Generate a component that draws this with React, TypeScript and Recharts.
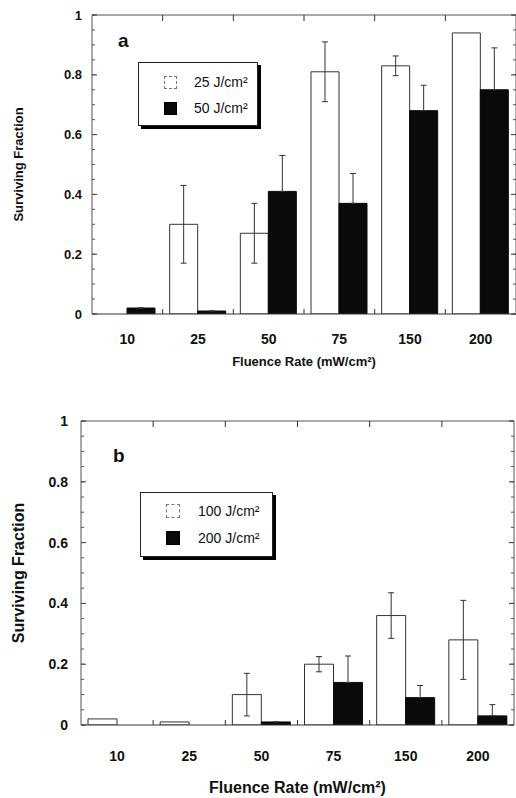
import React from 'react';
import { BarChart, Bar, XAxis, YAxis, ErrorBar, Legend } from 'recharts';

const FONT = '"Liberation Sans", Arial, Helvetica, sans-serif';
const AXIS = '#555';
const THIN = 0.01;

// ---- data ----
const categories = ['10', '25', '50', '75', '150', '200'];

const seriesA1Name = '25 J/cm²';
const seriesA2Name = '50 J/cm²';
const seriesA1 = [0, 0.30, 0.27, 0.81, 0.83, 0.94];
const seriesA1Err = [0, 0.13, 0.10, 0.10, 0.033, 0];
const seriesA2 = [0.02, 0.01, 0.41, 0.37, 0.68, 0.75];
const seriesA2Err = [0, 0, 0.12, 0.10, 0.085, 0.14];

const seriesB1Name = '100 J/cm²';
const seriesB2Name = '200 J/cm²';
const seriesB1 = [0.02, 0.01, 0.10, 0.20, 0.36, 0.28];
const seriesB1Err = [0, 0, 0.07, 0.025, 0.075, 0.13];
const seriesB2 = [0, 0, 0.01, 0.14, 0.09, 0.03];
const seriesB2Err = [0, 0, 0, 0.087, 0.04, 0.037];

const yMajorTicks = [0, 0.2, 0.4, 0.6, 0.8, 1];
const yMinorTicks = [0, 0.05, 0.1, 0.15, 0.2, 0.25, 0.3, 0.35, 0.4, 0.45, 0.5, 0.55, 0.6, 0.65, 0.7, 0.75, 0.8, 0.85, 0.9, 0.95, 1];
const xTitle = 'Fluence Rate (mW/cm²)';
const yTitle = 'Surviving Fraction';

// white bars: symmetric error; black bars: only the upper half shows above the filled bar
const dataA = categories.map((c, i) => ({ cat: c, v1: seriesA1[i], e1: seriesA1Err[i], v2: seriesA2[i], e2: [0, seriesA2Err[i]] }));
const dataB = categories.map((c, i) => ({ cat: c, v1: seriesB1[i], e1: seriesB1Err[i], v2: seriesB2[i], e2: [0, seriesB2Err[i]] }));

const NoLabel = () => <g />;

type LegendCfg = { left: number; top: number; width: number; height: number; sq: number; sqLeft: number; rowCenters: number[]; gap: number; fontSize: number };

function makeLegend(cfg: LegendCfg) {
  return (props: any) => {
    const payload = props.payload || [];
    return (
      <div style={{ width: cfg.width, height: cfg.height, border: '1.5px solid #222', boxShadow: '3px 3px 0 #000', background: '#fff', boxSizing: 'border-box', position: 'relative', fontFamily: FONT }}>
        {payload.map((p: any, i: number) => {
          const fill = (p.payload && p.payload.fill) || p.color;
          return (
            <div key={i} style={{ position: 'absolute', left: cfg.sqLeft, top: cfg.rowCenters[i] - cfg.sq / 2, height: cfg.sq, display: 'flex', alignItems: 'center', whiteSpace: 'nowrap' }}>
              <span style={{ display: 'inline-block', width: cfg.sq, height: cfg.sq, background: fill, border: fill === '#ffffff' ? '1px dashed #777' : '1px solid #000', boxSizing: 'border-box' }} />
              <span style={{ marginLeft: cfg.gap, fontSize: cfg.fontSize, color: '#111', lineHeight: 1 }}>{p.value}</span>
            </div>
          );
        })}
      </div>
    );
  };
}

function bandHalf(props: any) {
  const p = props.payload || {};
  if (typeof p.offset === 'number' && p.offset > 0) return p.offset;
  return props.width / ((props.visibleTicksCount || categories.length) * 2);
}

// bottom category tick: label + small inward mark at the left band boundary
function makeBottomTick(fontSize: number, tickMargin: number) {
  return (props: any) => {
    const { x, y, payload, index } = props;
    const half = bandHalf(props);
    const axisY = y - tickMargin;
    return (
      <g>
        <text x={x} y={y} dy="0.71em" textAnchor="middle" fill="#111" style={{ fontSize, fontWeight: 700, fontFamily: FONT }}>
          {payload.value}
        </text>
        {index > 0 && <line x1={x - half} x2={x - half} y1={axisY} y2={axisY - 5} stroke="#333" strokeWidth={1} />}
      </g>
    );
  };
}

// top frame: inward marks at the band boundaries
function TopTick(props: any) {
  const { x, y, index } = props;
  const half = bandHalf(props);
  if (index === 0) return <g />;
  return <line x1={x - half} x2={x - half} y1={y} y2={y + 6} stroke="#333" strokeWidth={1} />;
}

type PanelCfg = {
  data: any[];
  names: string[];
  top: number;
  height: number;
  margin: { top: number; right: number; left: number; bottom: number };
  yAxisWidth: number;
  xAxisHeight: number;
  tickFont: number;
  xTickFont: number;
  titleFont: number;
  yTickMargin: number;
  xTickMargin: number;
  xTitleDy: number;
  yTitleX: number;
  letter: string;
  letterX: number;
  letterY: number;
  letterSize: number;
  barSize: number;
  legend: LegendCfg;
};

function Panel(cfg: PanelCfg) {
  const tickStyle = { fill: '#111', fontSize: cfg.tickFont, fontWeight: 700, fontFamily: FONT };
  return (
    <div style={{ position: 'absolute', left: 0, top: cfg.top }}>
      <BarChart width={516} height={cfg.height} data={cfg.data} margin={cfg.margin} barGap={0} barSize={cfg.barSize}>
        <XAxis
          dataKey="cat"
          type="category"
          height={cfg.xAxisHeight}
          axisLine={{ stroke: '#333' }}
          tickLine={false}
          tickSize={0}
          tickMargin={cfg.xTickMargin}
          interval={0}
          tick={makeBottomTick(cfg.xTickFont, cfg.xTickMargin)}
          label={{
            content: (p: any) => {
              const vb = p.viewBox;
              return (
                <text x={vb.x + vb.width / 2} y={vb.y + cfg.xTitleDy} textAnchor="middle" fill="#111" style={{ fontSize: cfg.titleFont, fontWeight: 700, fontFamily: FONT }}>
                  {xTitle}
                </text>
              );
            },
          }}
        />
        <XAxis xAxisId="top" dataKey="cat" type="category" orientation="top" mirror height={THIN} interval={0} tickSize={0} tickMargin={0} tickLine={false} tick={TopTick} axisLine={{ stroke: AXIS }} />
        <YAxis
          type="number"
          domain={[0, 1]}
          ticks={yMajorTicks}
          interval={0}
          width={cfg.yAxisWidth}
          axisLine={{ stroke: AXIS }}
          tickLine={false}
          tickSize={0}
          tickMargin={cfg.yTickMargin}
          tick={tickStyle}
          allowDataOverflow
          label={{
            content: (p: any) => {
              const vb = p.viewBox;
              const cy = vb.y + vb.height / 2;
              return (
                <text x={cfg.yTitleX} y={cy} textAnchor="middle" dominantBaseline="central" transform={`rotate(-90, ${cfg.yTitleX}, ${cy})`} fill="#111" style={{ fontSize: cfg.titleFont, fontWeight: 700, fontFamily: FONT }}>
                  {yTitle}
                </text>
              );
            },
          }}
        />
        <YAxis yAxisId="lmaj" type="number" domain={[0, 1]} ticks={yMajorTicks} interval={0} mirror width={THIN} tick={NoLabel} tickSize={5} axisLine={false} tickLine={{ stroke: '#333' }} allowDataOverflow />
        <YAxis yAxisId="lmin" type="number" domain={[0, 1]} ticks={yMinorTicks} interval={0} mirror width={THIN} tick={NoLabel} tickSize={3} axisLine={false} tickLine={{ stroke: AXIS }} allowDataOverflow />
        <YAxis yAxisId="rmaj" orientation="right" type="number" domain={[0, 1]} ticks={yMajorTicks} interval={0} mirror width={THIN} tick={NoLabel} tickSize={5} axisLine={{ stroke: AXIS }} tickLine={{ stroke: '#333' }} allowDataOverflow />
        <YAxis yAxisId="rmin" orientation="right" type="number" domain={[0, 1]} ticks={yMinorTicks} interval={0} mirror width={THIN} tick={NoLabel} tickSize={3} axisLine={false} tickLine={{ stroke: AXIS }} allowDataOverflow />
        <Legend
          layout="vertical"
          align="center"
          verticalAlign="middle"
          wrapperStyle={{ left: cfg.legend.left, top: cfg.legend.top, width: cfg.legend.width, height: cfg.legend.height }}
          content={makeLegend(cfg.legend)}
        />
        <Bar dataKey="v1" name={cfg.names[0]} fill="#ffffff" stroke="#333" strokeWidth={1} isAnimationActive={false}>
          <ErrorBar dataKey="e1" width={3} stroke="#333" strokeWidth={1} direction="y" />
        </Bar>
        <Bar dataKey="v2" name={cfg.names[1]} fill="#0a0a0a" stroke="#0a0a0a" strokeWidth={1} isAnimationActive={false}>
          <ErrorBar dataKey="e2" width={3} stroke="#333" strokeWidth={1} direction="y" />
        </Bar>
        <text x={cfg.letterX} y={cfg.letterY} fill="#111" style={{ fontSize: cfg.letterSize, fontWeight: 700, fontFamily: FONT }}>
          {cfg.letter}
        </text>
      </BarChart>
    </div>
  );
}

export default function App() {
  return (
    <div style={{ position: 'absolute', left: 0, top: 0, width: 516, height: 798, background: '#fff', overflow: 'hidden' }}>
      <Panel
        data={dataA}
        names={[seriesA1Name, seriesA2Name]}
        top={0}
        height={380}
        margin={{ top: 15, right: 0, left: 0, bottom: 16 }}
        yAxisWidth={92}
        xAxisHeight={50}
        tickFont={13}
        xTickFont={14}
        titleFont={13}
        yTickMargin={10}
        xTickMargin={20}
        xTitleDy={52}
        yTitleX={18}
        letter="a"
        letterX={118}
        letterY={47}
        letterSize={19}
        barSize={28}
        legend={{ left: 138, top: 62, width: 120, height: 64, sq: 13, sqLeft: 25, rowCenters: [19, 45], gap: 17, fontSize: 14 }}
      />
      <Panel
        data={dataB}
        names={[seriesB1Name, seriesB2Name]}
        top={400}
        height={398}
        margin={{ top: 21, right: 2, left: 0, bottom: 13 }}
        yAxisWidth={81}
        xAxisHeight={60}
        tickFont={14}
        xTickFont={14}
        titleFont={16}
        yTickMargin={13}
        xTickMargin={26}
        xTitleDy={68}
        yTitleX={18}
        letter="b"
        letterX={113}
        letterY={62}
        letterSize={19}
        barSize={29}
        legend={{ left: 140, top: 92, width: 133, height: 65, sq: 14, sqLeft: 25, rowCenters: [18, 45], gap: 18, fontSize: 14 }}
      />
    </div>
  );
}
